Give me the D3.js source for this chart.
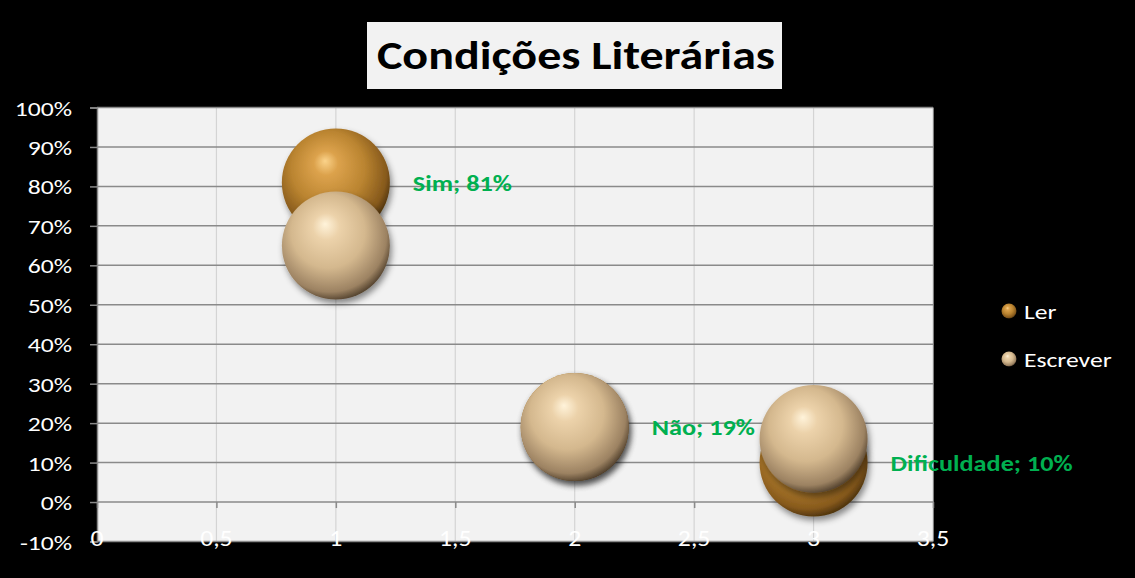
<!DOCTYPE html>
<html><head><meta charset="utf-8">
<script src="https://cdn.jsdelivr.net/npm/d3@7"></script>
<style>html,body{margin:0;padding:0;background:#000;}svg{display:block;}</style>
</head><body>
<div id="chart"></div>
<script>
const title = "Condições Literárias";
const categories = ["Sim", "Não", "Dificuldade"];
const xValues = [1, 2, 3];
const seriesNames = ["Ler", "Escrever"];
const lerValues = [0.81, 0.19, 0.10];
const escreverValues = [0.65, 0.19, 0.16];
const xTicks = [0, 0.5, 1, 1.5, 2, 2.5, 3, 3.5];
const yTicks = [-0.1, 0, 0.1, 0.2, 0.3, 0.4, 0.5, 0.6, 0.7, 0.8, 0.9, 1.0];

const W = 1135, H = 578;
const FONT = "Carlito, Lato, 'Open Sans', sans-serif";
const svg = d3.select("#chart").append("svg").attr("width", W).attr("height", H);
svg.append("rect").attr("width", W).attr("height", H).attr("fill", "#000");

function stretch(sel, k) {
  sel.each(function () {
    const w = this.getComputedTextLength();
    d3.select(this).attr("textLength", w * k).attr("lengthAdjust", "spacingAndGlyphs");
  });
}

const x = d3.scaleLinear().domain([0, 3.5]).range([97, 933]);
const y = d3.scaleLinear().domain([-0.1, 1]).range([541.5, 107.5]);
const R = 54;

const defs = svg.append("defs");
function sphereGrad(id, stops) {
  const g = defs.append("radialGradient").attr("id", id)
    .attr("cx", "0.45").attr("cy", "0.42").attr("r", "0.62")
    .attr("fx", "0.4").attr("fy", "0.3");
  stops.forEach(s => g.append("stop").attr("offset", s[0]).attr("stop-color", s[1]));
}
sphereGrad("gLer", [[0, "#fbd38a"], [0.18, "#dca24c"], [0.55, "#ba8430"], [0.85, "#86591c"], [1, "#3a2608"]]);
sphereGrad("gEsc", [[0, "#fff3da"], [0.2, "#ecd2aa"], [0.55, "#d4b88e"], [0.85, "#9c8262"], [1, "#3c2e1e"]]);
const f = defs.append("filter").attr("id", "sh").attr("x", "-30%").attr("y", "-30%").attr("width", "160%").attr("height", "160%");
f.append("feDropShadow").attr("dx", 2).attr("dy", 4).attr("stdDeviation", 3).attr("flood-color", "#000").attr("flood-opacity", 0.45);

// plot area
svg.append("rect").attr("x", x(0)).attr("y", y(1)).attr("width", x(3.5) - x(0)).attr("height", y(-0.1) - y(1)).attr("fill", "#f2f2f2");

// vertical gridlines
svg.append("g").selectAll("line").data(xTicks.filter(d => d > 0)).join("line")
  .attr("x1", d => x(d)).attr("x2", d => x(d)).attr("y1", y(1)).attr("y2", y(-0.1))
  .attr("stroke", "#d4d4d4").attr("stroke-width", 1.2);
// horizontal gridlines
svg.append("g").selectAll("line").data(yTicks).join("line")
  .attr("x1", x(0)).attr("x2", x(3.5)).attr("y1", d => y(d)).attr("y2", d => y(d))
  .attr("stroke", "#8a8a8a").attr("stroke-width", 1.5);

// y axis
const yAxis = d3.axisLeft(y).tickValues(yTicks).tickSize(7).tickPadding(18)
  .tickFormat(d => Math.round(d * 100) + "%");
const gy = svg.append("g").attr("transform", `translate(${x(0)},0)`).call(yAxis);
gy.select(".domain").attr("stroke", "#8a8a8a").attr("stroke-width", 1.5);
gy.selectAll(".tick line").attr("stroke", "#8a8a8a").attr("stroke-width", 1.5);
gy.selectAll("text").attr("fill", "#fff").attr("font-family", FONT).attr("font-size", 21).attr("dy", "0.36em");
stretch(gy.selectAll("text"), 1.22);

// x axis ticks at y=0
const xAxisTicks = d3.axisBottom(x).tickValues(xTicks).tickSize(6).tickFormat("");
const gx = svg.append("g").attr("transform", `translate(0,${y(0)})`).call(xAxisTicks);
gx.select(".domain").remove();
gx.selectAll(".tick line").attr("stroke", "#8a8a8a").attr("stroke-width", 1.5);
// x labels at bottom
const xl = svg.append("g").selectAll("text").data(xTicks).join("text")
  .attr("x", d => x(d)).attr("y", y(-0.1) + 4)
  .attr("text-anchor", "middle").attr("fill", "#fff")
  .attr("font-family", FONT).attr("font-size", 23)
  .text(d => String(d).replace(".", ","));
stretch(xl, 1.12);

// bubbles
const lerPts = xValues.map((v, i) => ({ x: v, y: lerValues[i], cat: categories[i] }));
const escPts = xValues.map((v, i) => ({ x: v, y: escreverValues[i] }));
svg.append("g").selectAll("circle").data(lerPts).join("circle")
  .attr("cx", d => x(d.x)).attr("cy", d => y(d.y)).attr("r", R)
  .attr("fill", "url(#gLer)").attr("filter", "url(#sh)");
svg.append("g").selectAll("circle").data(escPts).join("circle")
  .attr("cx", d => x(d.x)).attr("cy", d => y(d.y)).attr("r", R)
  .attr("fill", "url(#gEsc)").attr("filter", "url(#sh)");

// data labels
const dl = svg.append("g").selectAll("text").data(lerPts).join("text")
  .attr("x", d => x(d.x) + 77).attr("y", d => y(d.y)).attr("dy", "0.36em")
  .attr("fill", "#00b050").attr("font-family", FONT).attr("font-weight", "bold").attr("font-size", 23)
  .text(d => `${d.cat}; ${Math.round(d.y * 100)}%`);
stretch(dl, 1.14);

// title
svg.append("rect").attr("x", 367).attr("y", 22).attr("width", 415).attr("height", 67).attr("fill", "#f2f2f2");
const tt = svg.append("text").attr("x", 576).attr("y", 69).attr("text-anchor", "middle")
  .attr("font-family", FONT).attr("font-weight", "bold").attr("font-size", 40).attr("fill", "#000")
  .text(title);
stretch(tt, 1.2);

// legend
const leg = svg.append("g").selectAll("g").data(seriesNames).join("g")
  .attr("transform", (d, i) => `translate(1009,${311 + i * 48})`);
leg.append("circle").attr("r", 7.5).attr("fill", (d, i) => i === 0 ? "url(#gLer)" : "url(#gEsc)");
const lt = leg.append("text").attr("x", 15).attr("y", 8).attr("fill", "#fff")
  .attr("font-family", FONT).attr("font-size", 21).text(d => d);
stretch(lt, 1.22);
</script>
</body></html>
